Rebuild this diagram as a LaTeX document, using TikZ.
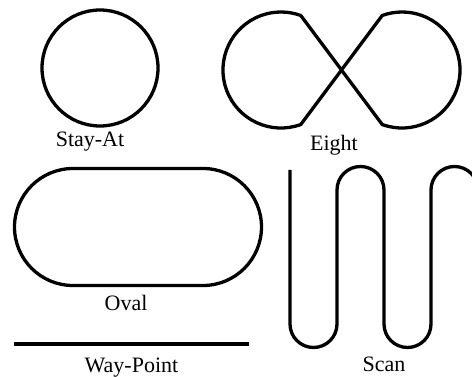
\documentclass[tikz,border=0pt]{standalone}
\usepackage{fontspec}
\setmainfont{Liberation Serif}
\usepackage{tikz}

\begin{document}
\begin{tikzpicture}[
    x=1pt, y=-1pt,
    track/.style={draw, line width=3.3pt, line join=round},
    caption/.style={font=\fontsize{22}{26}\selectfont, anchor=base, inner sep=0pt}
]
    \useasboundingbox (0,0) rectangle (472,377);

    % stay-at
    \draw[track] (100,68) circle[radius=58];
    \node[caption] (stayat) at (90,147) {Stay-At};

    % eight
    \draw[track] (300.8,15.5) -- (382.2,124.5)
        arc[start angle=110, end angle=-110, radius=58] -- (300.8,124.5)
        arc[start angle=70, end angle=290, radius=58] -- cycle;
    \node[caption] (eight) at (334,150.5) {Eight};

    % oval
    \draw[track] (73,168.5) -- (203,168.5)
        arc[start angle=270, end angle=450, radius=58.5] -- (73,285.5)
        arc[start angle=90, end angle=270, radius=58.5] -- cycle;
    \node[caption] (oval) at (126,310.5) {Oval};

    % way-point
    \draw[line width=4pt] (14,344) -- (249,344);
    \node[caption] (waypoint) at (131.5,373) {Way-Point};

    % scan
    \draw[track] (290,170) -- (290,324)
        arc[start angle=180, end angle=0, radius=23.5] -- (337,190)
        arc[start angle=180, end angle=360, radius=23.5] -- (384,324)
        arc[start angle=180, end angle=0, radius=23.5] -- (431,190)
        arc[start angle=180, end angle=360, radius=23.5] -- (478,240);
    \node[caption] (scan) at (384,371.5) {Scan};
\end{tikzpicture}
\end{document}
